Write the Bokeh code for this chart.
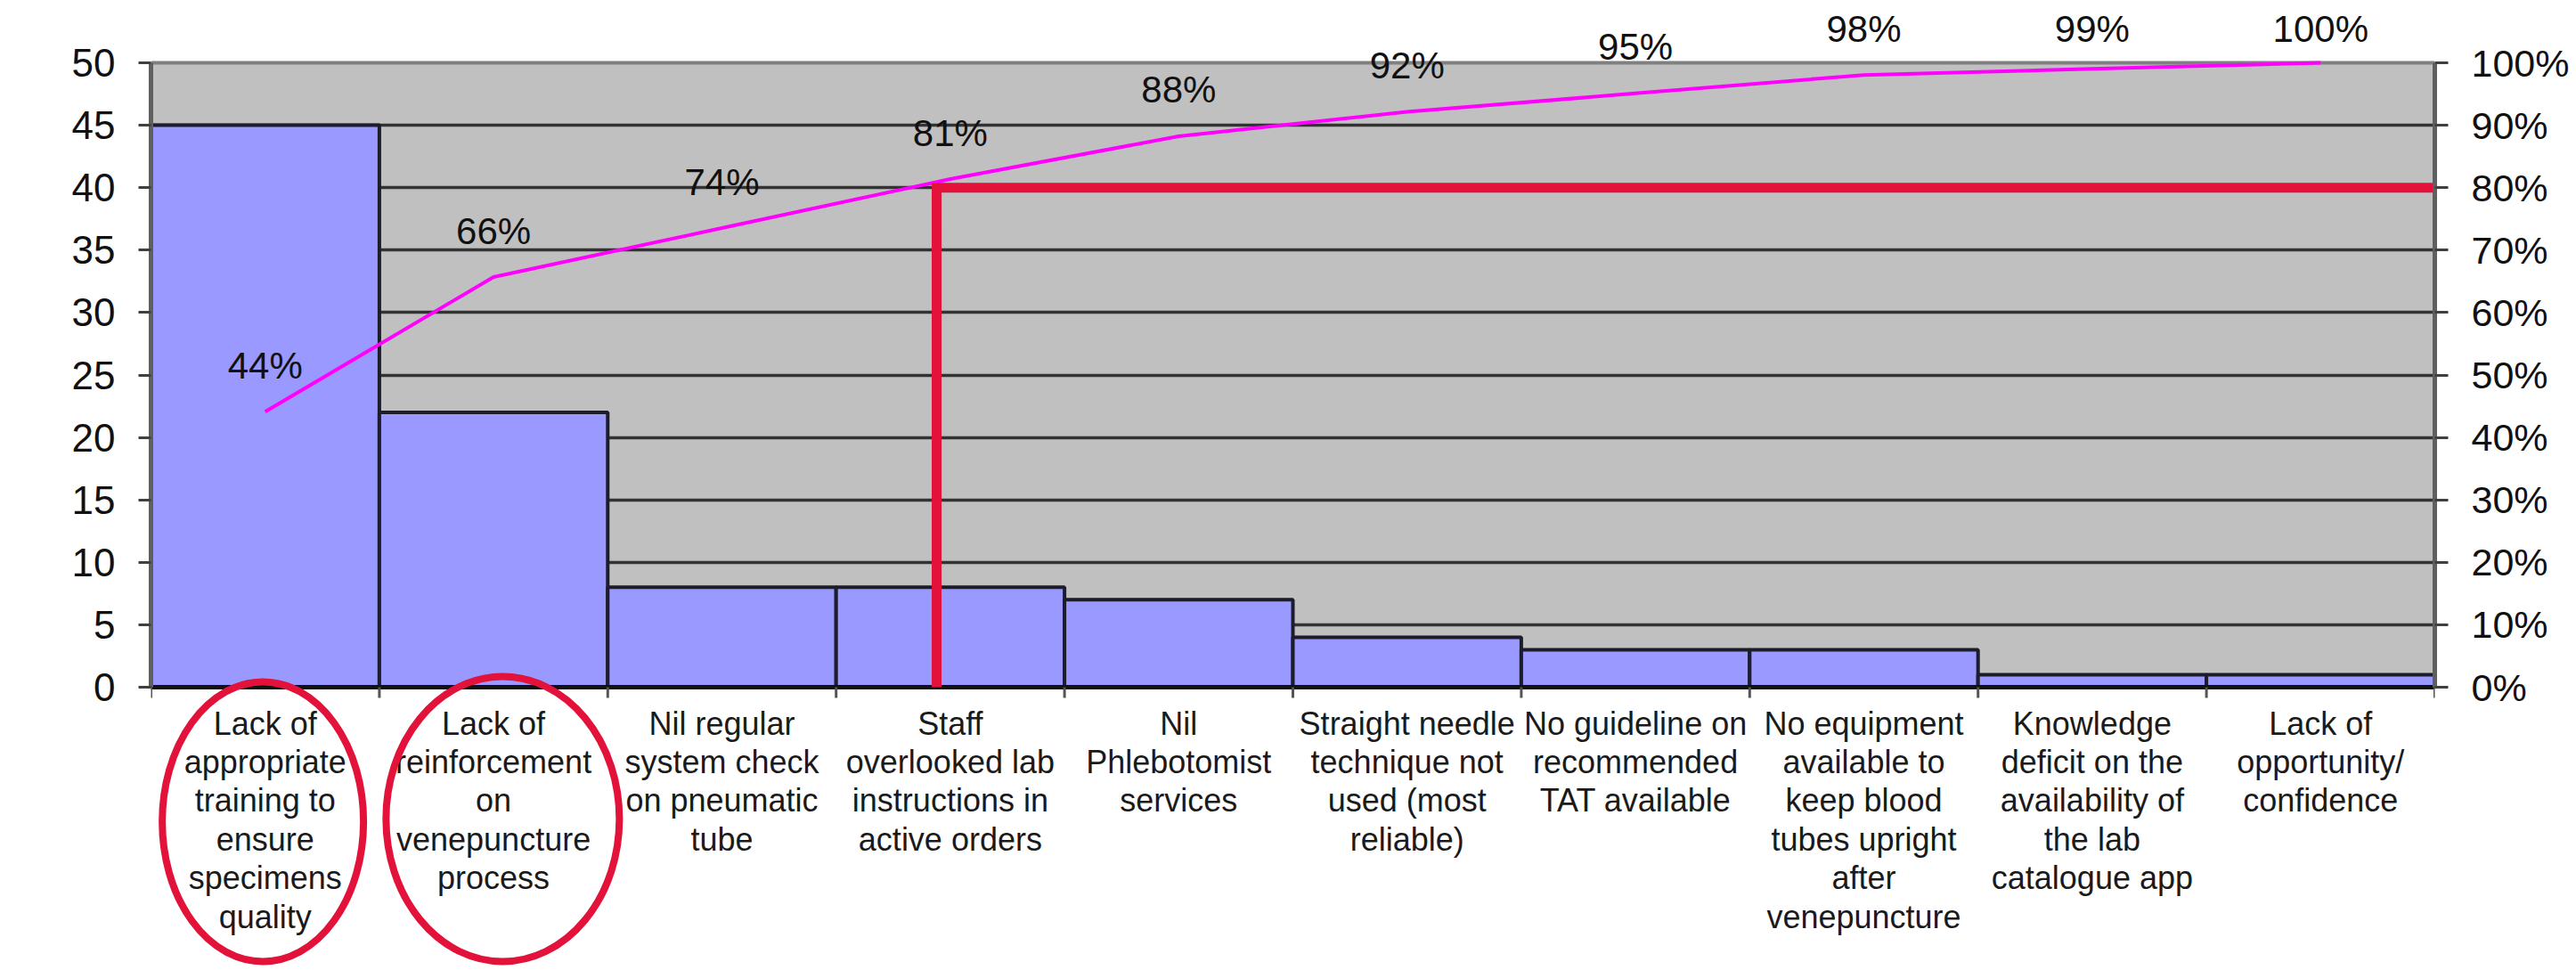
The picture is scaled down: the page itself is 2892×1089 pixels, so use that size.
import numpy as np
from bokeh.plotting import figure
from bokeh.models import Range1d, LinearAxis, FixedTicker
from bokeh.core.properties import value
from bokeh.embed import file_html
from bokeh.resources import INLINE

# ---------------- data ----------------
categories = [
    "Lack of\nappropriate\ntraining to\nensure\nspecimens\nquality",
    "Lack of\nreinforcement\non\nvenepuncture\nprocess",
    "Nil regular\nsystem check\non pneumatic\ntube",
    "Staff\noverlooked lab\ninstructions in\nactive orders",
    "Nil\nPhlebotomist\nservices",
    "Straight needle\ntechnique not\nused (most\nreliable)",
    "No guideline on\nrecommended\nTAT available",
    "No equipment\navailable to\nkeep blood\ntubes upright\nafter\nvenepuncture",
    "Knowledge\ndeficit on the\navailability of\nthe lab\ncatalogue app",
    "Lack of\nopportunity/\nconfidence",
]
counts = [45, 22, 8, 8, 7, 4, 3, 3, 1, 1]
count_ticks = [0, 5, 10, 15, 20, 25, 30, 35, 40, 45, 50]
pct_ticks = [0, 10, 20, 30, 40, 50, 60, 70, 80, 90, 100]
pct_tick_labels = ["0%", "10%", "20%", "30%", "40%", "50%", "60%", "70%", "80%", "90%", "100%"]
threshold_pct = 80          # Pareto 80 % line
cutoff_position = 3.44      # where the red cut-off line stands (category units)
highlighted = [0, 1]        # circled categories

# ---------------- derived ----------------
n = len(categories)
x_centers = np.arange(n) + 0.5
cum_pct = np.cumsum(counts) / np.sum(counts) * 100
cum_labels = [f"{int(round(v))}%" for v in cum_pct]

# ---------------- geometry (pixels) ----------------
W, H = 2892, 1089
border_left, border_right = 169, 159
zero_y, top_y = 771, 70                 # screen y of 0 and 50
count_max = 50
px_per_count = (zero_y - top_y) / count_max
y0 = -(H - zero_y) / px_per_count
y1 = zero_y / px_per_count
pct_factor = 100 / count_max
px_per_pct = px_per_count / pct_factor

FONT = value("Liberation Sans")
RED = "#E2123A"

p = figure(width=W, height=H, output_backend="svg", toolbar_location=None,
           x_range=Range1d(0, n), y_range=Range1d(y0, y1),
           x_axis_location=None, min_border_left=border_left,
           min_border_right=border_right, min_border_top=0, min_border_bottom=0)
p.extra_y_ranges = {"pct": Range1d(y0 * pct_factor, y1 * pct_factor)}
p.outline_line_color = None
p.background_fill_color = "white"
p.border_fill_color = "white"
p.xgrid.visible = False

# grid
p.ygrid.ticker = FixedTicker(ticks=count_ticks[1:-1])
p.ygrid.grid_line_color = "#333333"
p.ygrid.grid_line_width = 3.5

# plot area background
p.quad(left=0, right=n, bottom=0, top=count_max, fill_color="#C0C0C0",
       line_color=None, level="image")
p.segment(x0=[0], y0=[count_max], x1=[n], y1=[count_max], line_color="#808080",
          line_width=4, level="image")

# left axis
ya = p.yaxis[0]
ya.ticker = FixedTicker(ticks=count_ticks)
ya.bounds = (0, count_max)
ya.axis_line_color = "#5f5f5f"
ya.axis_line_width = 5
ya.major_tick_line_color = "#404040"
ya.major_tick_line_width = 3
ya.major_tick_out = 14
ya.major_tick_in = 0
ya.minor_tick_out = 0
ya.minor_tick_in = 0
ya.major_label_standoff = 26
ya.major_label_text_font = "Liberation Sans"
ya.major_label_text_font_size = "44px"
ya.major_label_text_color = "#111111"

# right axis
ra = LinearAxis(y_range_name="pct", ticker=FixedTicker(ticks=pct_ticks), bounds=(0, 100))
ra.major_label_overrides = {t: l for t, l in zip(pct_ticks, pct_tick_labels)}
ra.axis_line_color = "#5f5f5f"
ra.axis_line_width = 5
ra.major_tick_line_color = "#404040"
ra.major_tick_line_width = 3
ra.major_tick_out = 15
ra.major_tick_in = 0
ra.minor_tick_out = 0
ra.minor_tick_in = 0
ra.major_label_standoff = 26
ra.major_label_text_font = "Liberation Sans"
ra.major_label_text_font_size = "43px"
ra.major_label_text_color = "#111111"
p.add_layout(ra, "right")

# bars
p.vbar(x=x_centers, width=1, bottom=0, top=counts, fill_color="#9999FF",
       line_color="#1c1c2c", line_width=4)

# bottom axis line + category boundary ticks
p.segment(x0=[0], y0=[0], x1=[n], y1=[0], line_color="#111111", line_width=5)
bounds_x = np.arange(n + 1)
p.segment(x0=bounds_x, y0=0, x1=bounds_x, y1=-12 / px_per_count,
          line_color="#555555", line_width=3)

# cumulative line
p.line(x=x_centers, y=cum_pct, y_range_name="pct", line_color="#FF00FF", line_width=4)

# Pareto cut-off line
p.line(x=[cutoff_position, cutoff_position, n], y=[0, threshold_pct, threshold_pct],
       y_range_name="pct", line_color=RED, line_width=11, line_join="miter")

# cumulative labels
label_pct = np.minimum(cum_pct + 52 / px_per_pct, (zero_y - 32) / px_per_pct)
p.text(x=x_centers, y=label_pct, text=cum_labels, y_range_name="pct",
       text_align="center", text_baseline="middle", text_font=FONT,
       text_font_size="42px", text_color="#111111")

# category labels
p.text(x=x_centers, y=0, text=categories, text_align="center", text_baseline="top",
       y_offset=20, text_font=FONT, text_font_size="36px", text_line_height=1.06,
       text_color="#1a1a1a")

# circled categories
ell_dx = [-0.01, 0.04]
ell_cy = [922, 919]
ell_w = [226, 262]
ell_h = [314, 320]
p.ellipse(x=[x_centers[i] + d for i, d in zip(highlighted, ell_dx)],
          y=[(zero_y - c) / px_per_count for c in ell_cy],
          width=ell_w, height=ell_h, width_units="screen", height_units="screen",
          fill_color=None, line_color=RED, line_width=8)

open("out.html", "w").write(file_html(p, INLINE))
